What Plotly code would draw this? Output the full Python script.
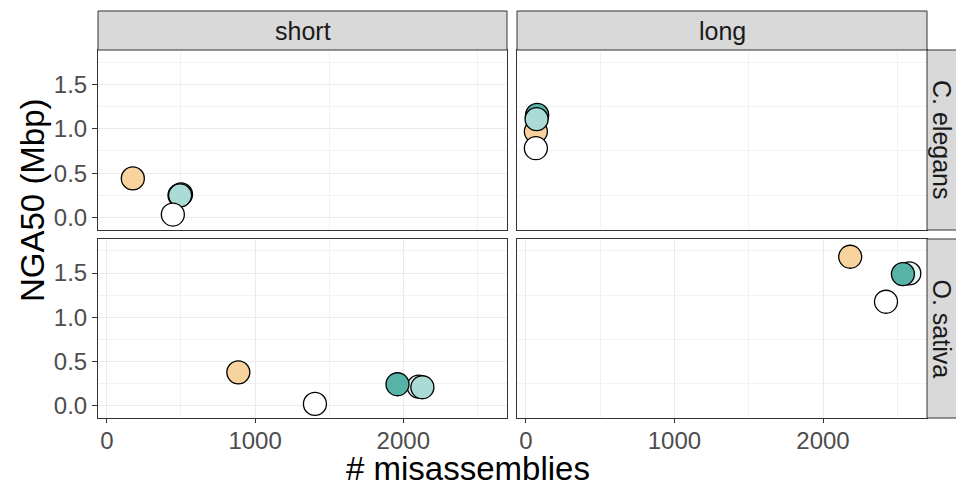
import plotly.graph_objects as go

# ---- data ----
series_names = ["A", "B", "C", "D", "E"]
series_colors = ["#F9D39E", "#E2F4F0", "#57B2A7", "#ABDBD6", "#FFFFFF"]

# misassemblies (x) and NGA50 in Mbp (y) per panel: (row species, column read type)
panels = {
    ("C. elegans", "short"): {
        "x": [175, 490, 500, 494, 445],
        "y": [0.44, 0.25, 0.26, 0.25, 0.034],
    },
    ("C. elegans", "long"): {
        "x": [67, 74, 76, 72, 67],
        "y": [0.967, 1.14, 1.156, 1.107, 0.78],
    },
    ("O. sativa", "short"): {
        "x": [887, 2104, 1961, 2129, 1404],
        "y": [0.377, 0.215, 0.242, 0.208, 0.019],
    },
    ("O. sativa", "long"): {
        "x": [2183, 2581, 2538, None, 2424],
        "y": [1.684, 1.496, 1.488, None, 1.175],
    },
}
rows = ["C. elegans", "O. sativa"]
cols = ["short", "long"]
x_ticks = [0, 1000, 2000]
y_ticks = [0.0, 0.5, 1.0, 1.5]
y_tick_labels = ["0.0", "0.5", "1.0", "1.5"]

W, H = 956, 487
def px(x):
    return x / W
def py(y):
    return 1 - y / H

col_dom = [(98, 507), (517, 927)]
row_dom = [(50, 230), (239, 418)]

fig = go.Figure()
FONT = "Liberation Sans, Arial, sans-serif"
TICK_SIZE = 24
STRIP_SIZE = 25
TITLE_SIZE = 33

for ri, r in enumerate(rows):
    for ci, c in enumerate(cols):
        k = ri * 2 + ci + 1
        xa = "x" if k == 1 else f"x{k}"
        ya = "y" if k == 1 else f"y{k}"
        d = panels[(r, c)]
        for i in range(len(series_names)):
            if d["x"][i] is None:
                continue
            fig.add_trace(go.Scatter(
                x=[d["x"][i]], y=[d["y"][i]], mode="markers",
                marker=dict(size=23, color=series_colors[i],
                            line=dict(color="#000000", width=1.3)),
                xaxis=xa, yaxis=ya, showlegend=False, hoverinfo="skip"))
        x0, x1 = col_dom[ci]
        y0, y1 = row_dom[ri]
        bottom = ri == 1
        left = ci == 0
        fig.layout[("xaxis" if k == 1 else f"xaxis{k}")] = dict(
            domain=[px(x0), px(x1)], anchor=ya, range=[-60, 2700],
            tickvals=x_ticks if bottom else [], ticktext=[str(v) for v in x_ticks] if bottom else [],
            ticks="outside" if bottom else "", ticklen=4, tickcolor="#333333", tickwidth=1,
            showticklabels=bottom, ticklabelstandoff=-3,
            tickfont=dict(family=FONT, size=TICK_SIZE, color="#4D4D4D"),
            showgrid=True, gridcolor="#EBEBEB", gridwidth=1.2,
            minor=dict(tickvals=[500, 1500, 2500], showgrid=True, gridcolor="#F2F2F2", gridwidth=0.8, ticks=""),
            zeroline=False, showline=True, mirror=True, linecolor="#333333", linewidth=1,
        )
        fig.layout[("yaxis" if k == 1 else f"yaxis{k}")] = dict(
            domain=[py(y1), py(y0)], anchor=xa, range=[-0.14, 1.885],
            tickvals=y_ticks if left else [], ticktext=y_tick_labels if left else [],
            ticks="outside" if left else "", ticklen=5, tickcolor="#333333", tickwidth=1,
            showticklabels=left,
            tickfont=dict(family=FONT, size=TICK_SIZE, color="#4D4D4D"),
            showgrid=True, gridcolor="#EBEBEB", gridwidth=1.2,
            minor=dict(tickvals=[0.25, 0.75, 1.25, 1.75], showgrid=True, gridcolor="#F2F2F2", gridwidth=0.8, ticks=""),
            zeroline=False, showline=True, mirror=True, linecolor="#333333", linewidth=1,
        )

shapes = []
annotations = []
# top strips
for ci, c in enumerate(cols):
    x0, x1 = col_dom[ci]
    shapes.append(dict(type="rect", xref="paper", yref="paper",
                       x0=px(x0), x1=px(x1), y0=py(50), y1=py(11),
                       fillcolor="#D9D9D9", line=dict(color="#333333", width=1)))
    annotations.append(dict(text=c, xref="paper", yref="paper",
                            x=px((x0 + x1) / 2), y=py(31), showarrow=False,
                            xanchor="center", yanchor="middle",
                            font=dict(family=FONT, size=STRIP_SIZE, color="#1A1A1A")))
# right strips
for ri, r in enumerate(rows):
    y0, y1 = row_dom[ri]
    shapes.append(dict(type="rect", xref="paper", yref="paper",
                       x0=px(927), x1=px(966), y0=py(y1), y1=py(y0),
                       fillcolor="#D9D9D9", line=dict(color="#333333", width=1)))
    annotations.append(dict(text=r, xref="paper", yref="paper",
                            x=px(942), y=py((y0 + y1) / 2), showarrow=False,
                            xanchor="center", yanchor="middle", textangle=90,
                            font=dict(family=FONT, size=STRIP_SIZE, color="#1A1A1A")))

annotations.append(dict(text="# misassemblies", xref="paper", yref="paper",
                        x=px(468), y=py(468), showarrow=False,
                        xanchor="center", yanchor="middle",
                        font=dict(family=FONT, size=TITLE_SIZE, color="#000000")))
annotations.append(dict(text="NGA50 (Mbp)", xref="paper", yref="paper",
                        x=px(32), y=py(200), showarrow=False, textangle=-90,
                        xanchor="center", yanchor="middle",
                        font=dict(family=FONT, size=TITLE_SIZE, color="#000000")))

fig.update_layout(width=W, height=H, margin=dict(l=0, r=0, t=0, b=0),
                  paper_bgcolor="white", plot_bgcolor="white",
                  shapes=shapes, annotations=annotations)

fig.write_html("out.html")
